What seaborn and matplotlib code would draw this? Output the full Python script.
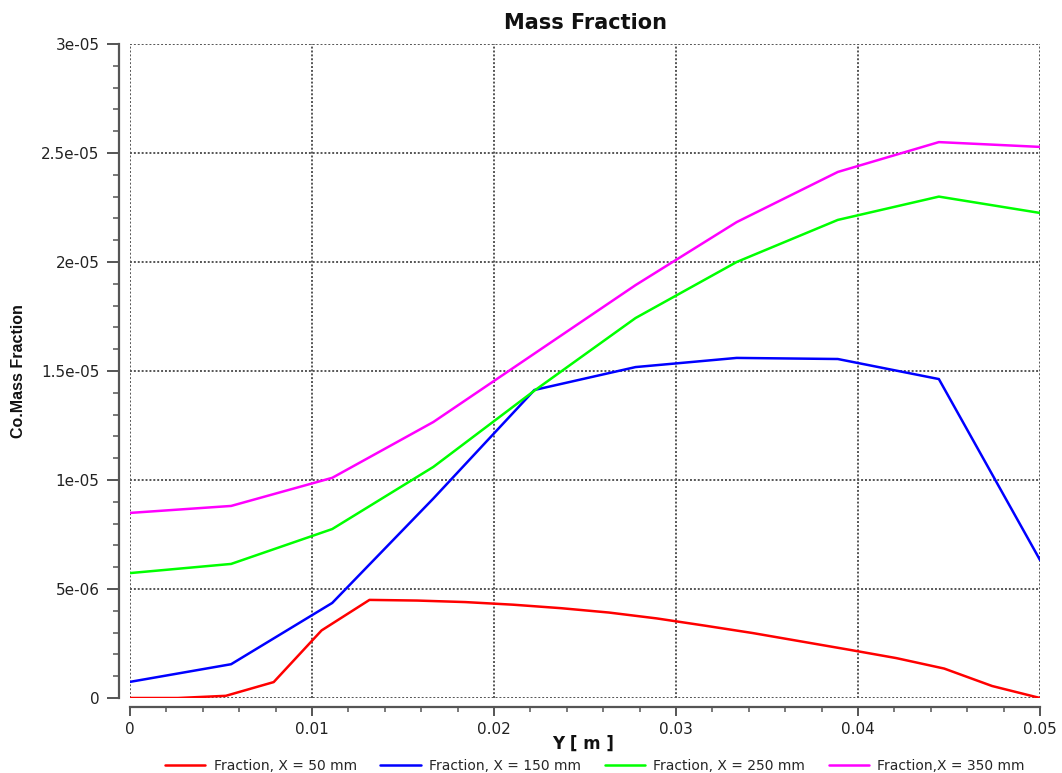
import numpy as np
import pandas as pd
import matplotlib
matplotlib.use("Agg")
import matplotlib.pyplot as plt
from matplotlib.ticker import FuncFormatter, MultipleLocator
import seaborn as sns

# Radial position Y [m] for the coarse (9-segment) and fine (19-segment) profiles
y_coarse = [0.0, 0.005556, 0.011111, 0.016667, 0.022222, 0.027778,
            0.033333, 0.038889, 0.044444, 0.05]
y_fine = [0.0, 0.002632, 0.005263, 0.007895, 0.010526, 0.013158, 0.015789,
          0.018421, 0.021053, 0.023684, 0.026316, 0.028947, 0.031579,
          0.034211, 0.036842, 0.039474, 0.042105, 0.044737, 0.047368, 0.05]

# Co mass fraction profiles at four axial stations
frac_50 = [0.0, 0.0, 0.10e-6, 0.73e-6, 3.10e-6, 4.50e-6, 4.47e-6, 4.40e-6,
           4.28e-6, 4.12e-6, 3.92e-6, 3.65e-6, 3.32e-6, 2.98e-6, 2.60e-6,
           2.22e-6, 1.83e-6, 1.35e-6, 0.55e-6, 0.0]
frac_150 = [0.74e-6, 1.55e-6, 4.36e-6, 9.15e-6, 14.13e-6, 15.18e-6,
            15.60e-6, 15.55e-6, 14.63e-6, 6.33e-6]
frac_250 = [5.73e-6, 6.15e-6, 7.75e-6, 10.60e-6, 14.10e-6, 17.43e-6,
            20.00e-6, 21.93e-6, 23.00e-6, 22.25e-6]
frac_350 = [8.49e-6, 8.81e-6, 10.10e-6, 12.66e-6, 15.80e-6, 18.94e-6,
            21.83e-6, 24.13e-6, 25.50e-6, 25.28e-6]

series_names = ["Fraction, X = 50 mm", "Fraction, X = 150 mm",
                "Fraction, X = 250 mm", "Fraction,X = 350 mm"]
series_colors = ["#ff0000", "#0000ff", "#00ff00", "#ff00ff"]

x_ticks = [0.0, 0.01, 0.02, 0.03, 0.04, 0.05]
y_ticks = [0.0, 5e-6, 1e-5, 1.5e-5, 2e-5, 2.5e-5, 3e-5]

frames = []
for name, xs, vals in zip(series_names,
                          [y_fine, y_coarse, y_coarse, y_coarse],
                          [frac_50, frac_150, frac_250, frac_350]):
    frames.append(pd.DataFrame({"Y": xs, "frac": vals, "series": name}))
df = pd.concat(frames, ignore_index=True)

sns.set_theme(style="white")
plt.rcParams["font.family"] = ["DejaVu Sans"]

fig = plt.figure(figsize=(10.62, 7.73), dpi=100)
ax = fig.add_axes([130 / 1062, 1 - 698 / 773, 910 / 1062, 654 / 773])

sns.lineplot(data=df, x="Y", y="frac", hue="series", hue_order=series_names,
             palette=series_colors, estimator=None, sort=False,
             linewidth=1.8, legend=False, ax=ax)

ax.set_xlim(x_ticks[0], x_ticks[-1])
ax.set_ylim(y_ticks[0], y_ticks[-1])
ax.set_xticks(x_ticks)
ax.set_yticks(y_ticks)
ax.xaxis.set_minor_locator(MultipleLocator(0.002))
ax.yaxis.set_minor_locator(MultipleLocator(1e-6))
fmt = FuncFormatter(lambda v, pos: f"{v:g}")
ax.xaxis.set_major_formatter(fmt)
ax.yaxis.set_major_formatter(fmt)

# Dotted grid framing the data region
ax.set_axisbelow(True)
ax.grid(True, which="major", color="#555555", linestyle=(0, (1, 1)),
        linewidth=1.4)
for gl in ax.get_xgridlines() + ax.get_ygridlines():
    gl.set_clip_on(False)

# Detached axis lines with outward ticks
for side in ["top", "right"]:
    ax.spines[side].set_visible(False)
ax.spines["left"].set_position(("outward", 8))
ax.spines["bottom"].set_position(("outward", 6.5))
for side in ["left", "bottom"]:
    ax.spines[side].set_color("#555555")
    ax.spines[side].set_linewidth(1.6)

ax.tick_params(axis="y", which="major", direction="out", length=9, width=1.4,
               color="#555555", left=True, labelsize=11, labelcolor="#222222",
               pad=5)
ax.tick_params(axis="y", which="minor", direction="out", length=4.5,
               width=1.1, color="#555555", left=True)
ax.tick_params(axis="x", which="major", direction="out", length=6.5,
               width=1.4, color="#555555", bottom=True, labelsize=11,
               labelcolor="#222222", pad=4)
ax.tick_params(axis="x", which="minor", direction="out", length=3.5,
               width=1.1, color="#555555", bottom=True)

ax.set_title("Mass Fraction", fontsize=15, fontweight="bold", pad=11,
             color="#111111")
ax.set_xlabel("Y [ m ]", fontsize=12, fontweight="bold", color="#111111")
ax.xaxis.set_label_coords(0.498, -0.056)
ax.set_ylabel("Co.Mass Fraction", fontsize=11.5, color="#111111",
              family=["Liberation Sans"], fontweight="semibold")
ax.yaxis.set_label_coords(-0.114, 0.5)

handles = [plt.Line2D([], [], color=c, linewidth=1.8) for c in series_colors]
fig.legend(handles, series_names, loc="lower center",
           bbox_to_anchor=(595 / 1062, -0.016), ncol=4, frameon=False,
           fontsize=10, handlelength=2.9, handletextpad=0.6,
           columnspacing=1.7)

fig.savefig("out.png", dpi=100)
